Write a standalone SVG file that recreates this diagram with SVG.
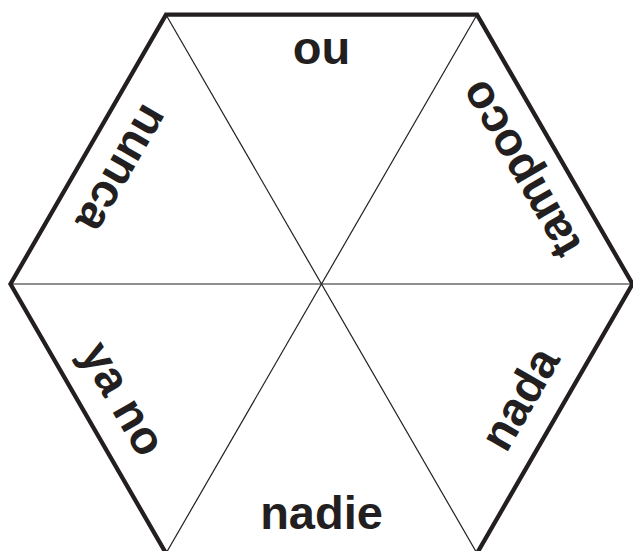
<svg xmlns="http://www.w3.org/2000/svg" width="633" height="551" viewBox="0 0 633 551">
<style>
.hex{fill:none;stroke:#231f20;stroke-width:4.3;stroke-linejoin:miter}
.spoke{stroke:#231f20;stroke-width:1.2;fill:none}
.w{font-family:"Liberation Sans",Arial,sans-serif;font-weight:bold;font-size:47px;fill:#231f20;text-anchor:middle}
</style>
<rect width="633" height="551" fill="#fff"/>
<g id="connectors">
<polygon class="hex" points="166,14.7 477,14.7 632.5,284 477,553.3 166,553.3 10.5,284"/>
<line class="spoke" x1="10.5" y1="284" x2="632.5" y2="284"/>
<line class="spoke" x1="166" y1="14.7" x2="477" y2="553.3"/>
<line class="spoke" x1="477" y1="14.7" x2="166" y2="553.3"/>
</g>
<g id="top"><text class="w" transform="translate(321.5,284) rotate(180) translate(0,245)">no</text></g>
<g id="upper-right"><text class="w" transform="translate(321.5,284) rotate(-120) translate(0,245)">tampoco</text></g>
<g id="lower-right"><text class="w" transform="translate(321.5,284) rotate(-60) translate(0,245)">nada</text></g>
<g id="bottom"><text class="w" transform="translate(321.5,284) translate(0,245)">nadie</text></g>
<g id="lower-left"><text class="w" transform="translate(321.5,284) rotate(60) translate(0,245)">ya no</text></g>
<g id="upper-left"><text class="w" transform="translate(321.5,284) rotate(120) translate(0,245)">nunca</text></g>
</svg>
